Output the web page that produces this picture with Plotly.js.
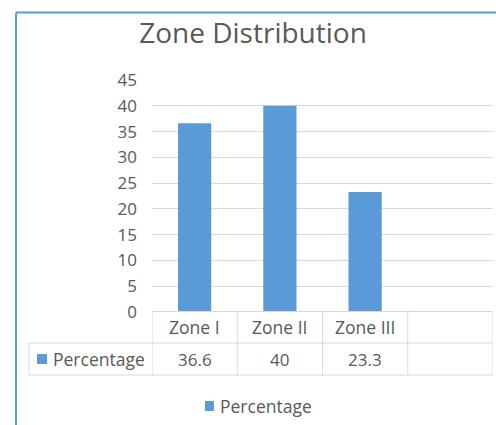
<!DOCTYPE html>
<html>
<head>
<meta charset="utf-8">
<script src="https://cdn.plot.ly/plotly-3.0.1.min.js"></script>
<style>html,body{margin:0;padding:0;background:#fff;}#chart{width:496px;height:425px;}</style>
</head>
<body>
<div id="chart"></div>
<script>
const categories = ['Zone I', 'Zone II', 'Zone III', ''];
const percentage = [36.6, 40, 23.3, null];
const seriesName = 'Percentage';
const yTicks = [0, 5, 10, 15, 20, 25, 30, 35, 40, 45];

const W = 496, H = 425;
const mL = 152, mR = 3, mT = 80, mB = 113;
const plotH = H - mT - mB;
const plotW = W - mL - mR;
const py = p => (H - mB - p) / plotH;      // pixel y -> paper y
const px = p => (p - mL) / plotW;          // pixel x -> paper x
const textColor = '#595959';
const gridColor = '#D9D9D9';
const barColor = '#5B9BD5';
const font = 'Open Sans, sans-serif';

const xIdx = categories.map((c, i) => i);

const trace = {
  type: 'bar',
  x: xIdx,
  y: percentage,
  name: seriesName,
  marker: {color: barColor},
  width: 0.39,
  hoverinfo: 'none',
  showlegend: false
};

const shapes = [];
const annotations = [];
const row1Top = py(311.5), row1Bot = py(343), row2Bot = py(375);
const line = {color: gridColor, width: 1};
// horizontal table lines
shapes.push({type: 'line', xref: 'x', yref: 'paper', x0: -0.5, x1: categories.length - 0.5, y0: row1Top, y1: row1Top, line});
shapes.push({type: 'line', xref: 'paper', yref: 'paper', x0: px(29), x1: 1, y0: row1Bot, y1: row1Bot, line});
shapes.push({type: 'line', xref: 'paper', yref: 'paper', x0: px(29), x1: 1, y0: row2Bot, y1: row2Bot, line});
shapes.push({type: 'line', xref: 'paper', yref: 'paper', x0: px(29), x1: px(29), y0: row1Bot, y1: row2Bot, line});
// vertical lines at category boundaries
for (let i = 0; i <= categories.length; i++) {
  shapes.push({type: 'line', xref: 'x', yref: 'paper', x0: i - 0.5, x1: i - 0.5, y0: row1Top, y1: row2Bot, line});
}
// series key in table
shapes.push({type: 'rect', xref: 'paper', yref: 'paper', x0: px(37), x1: px(47), y0: py(364), y1: py(354), line: {width: 0}, fillcolor: barColor});
annotations.push({xref: 'paper', yref: 'paper', x: px(51), y: (row1Bot + row2Bot) / 2, xanchor: 'left', yanchor: 'middle', showarrow: false, text: seriesName, font: {family: font, size: 17.5, color: textColor}});
categories.forEach((c, i) => {
  if (c) annotations.push({xref: 'x', yref: 'paper', x: i, y: (row1Top + row1Bot) / 2, xanchor: 'center', yanchor: 'middle', showarrow: false, text: c, font: {family: font, size: 17.5, color: textColor}});
  if (percentage[i] !== null && percentage[i] !== undefined) annotations.push({xref: 'x', yref: 'paper', x: i, y: (row1Bot + row2Bot) / 2, xanchor: 'center', yanchor: 'middle', showarrow: false, text: String(percentage[i]), font: {family: font, size: 17, color: textColor}});
});
// legend below the table
shapes.push({type: 'rect', xref: 'paper', yref: 'paper', x0: px(205), x1: px(214), y0: py(411), y1: py(401), line: {width: 0}, fillcolor: barColor});
annotations.push({xref: 'paper', yref: 'paper', x: px(218), y: py(406), xanchor: 'left', yanchor: 'middle', showarrow: false, text: seriesName, font: {family: font, size: 17.5, color: textColor}});
// chart border (blue selection frame)
shapes.push({type: 'line', xref: 'paper', yref: 'paper', x0: px(16), x1: px(W + 5), y0: py(12.5), y1: py(12.5), line: {color: barColor, width: 2}});
shapes.push({type: 'line', xref: 'paper', yref: 'paper', x0: px(16), x1: px(16), y0: py(12.5), y1: py(H + 5), line: {color: barColor, width: 2}});

const layout = {
  width: W, height: H,
  margin: {l: mL, r: mR, t: mT, b: mB, pad: 0},
  paper_bgcolor: '#fff', plot_bgcolor: '#fff',
  title: {text: 'Zone Distribution', font: {family: font, size: 28, color: textColor}, xref: 'container', x: 253 / W, xanchor: 'center', yref: 'container', y: 1 - 33 / H, yanchor: 'middle'},
  xaxis: {range: [-0.5, categories.length - 0.5], showticklabels: false, showgrid: false, zeroline: false, showline: false, ticks: '', fixedrange: true},
  yaxis: {range: [0, 45], tickvals: yTicks, ticktext: yTicks.map(String), showgrid: true, gridcolor: gridColor, gridwidth: 1, zeroline: false, showline: false, ticks: '', ticklabelstandoff: 14, tickfont: {family: font, size: 17, color: textColor}, fixedrange: true},
  showlegend: false,
  shapes, annotations,
  bargap: 0.6
};

Plotly.newPlot('chart', [trace], layout, {staticPlot: true, displayModeBar: false});
</script>
</body>
</html>
